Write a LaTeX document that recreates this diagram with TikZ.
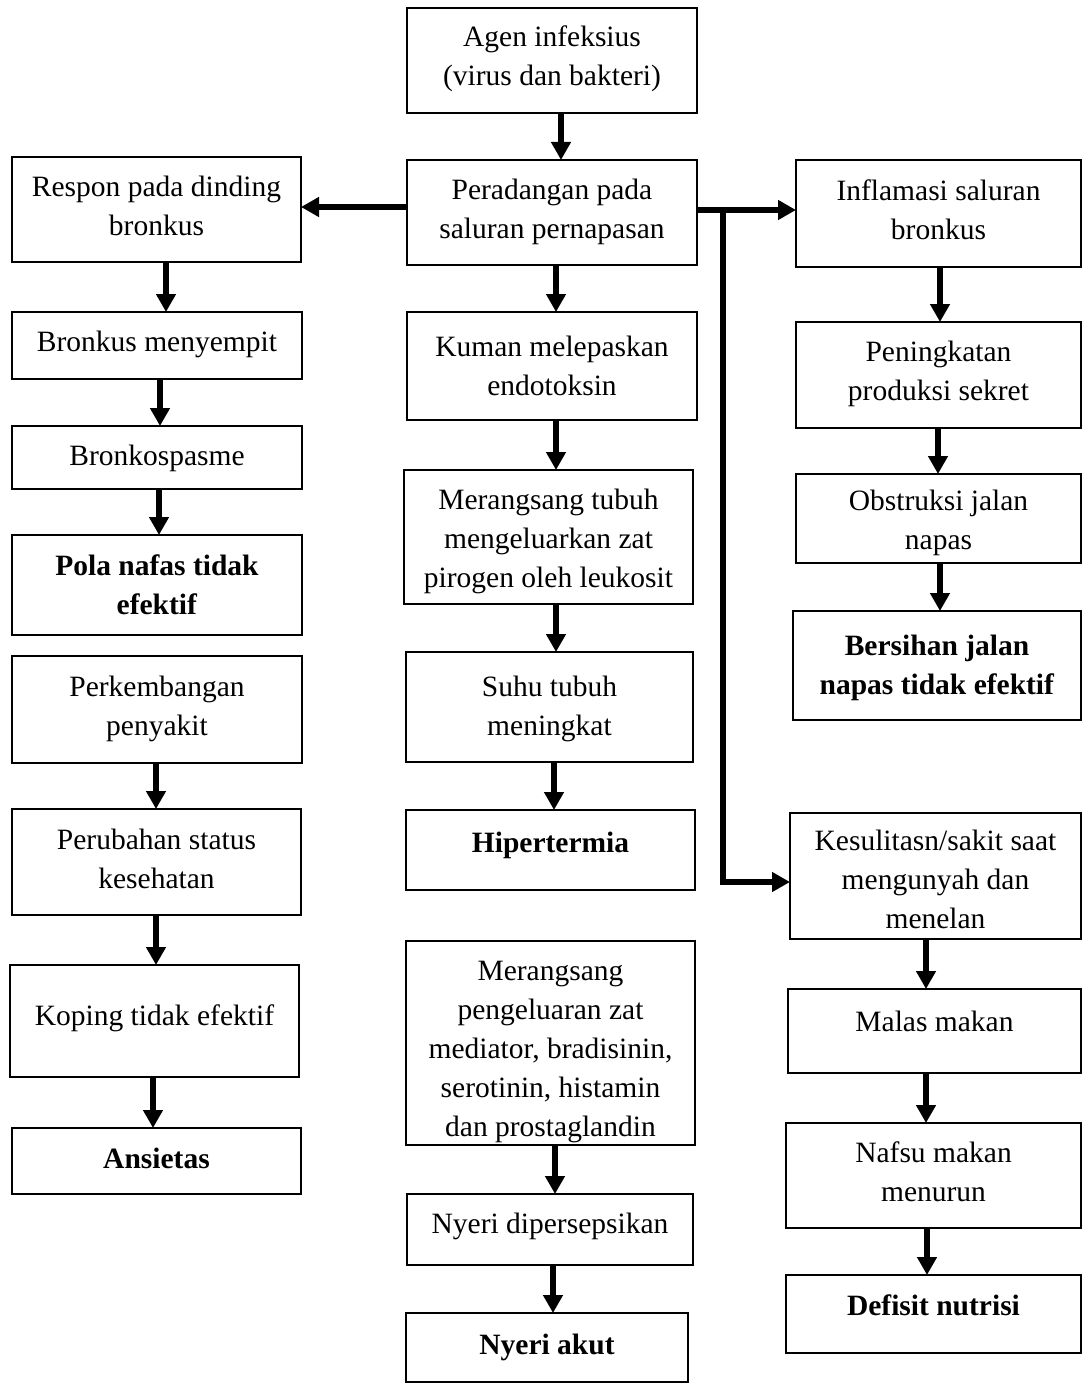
\documentclass[tikz,border=0pt]{standalone}
\usepackage{fontspec}
\setmainfont{Liberation Serif}
\usetikzlibrary{arrows.meta}
\tikzset{
  boxsty/.style={draw, line width=1.6pt, inner sep=0pt, outer sep=0pt, anchor=north west,
    font=\fontsize{29.5pt}{39pt}\selectfont},
  arr/.style={line width=5.5pt, -{Triangle[length=18pt,width=19pt]}, line join=miter},
}
% #1 first baseline offset, #2 name, #3 x1, #4 y1, #5 x2, #6 y2, #7 text
\newcommand{\flowbox}[7][39]{%
  \node[boxsty] (#2) at (#3,#4)
    {\parbox[c][\dimexpr #6pt-#4pt\relax][t]{\dimexpr #5pt-#3pt\relax}{\centering\rule{0pt}{#1pt}#7\par}};%
}
\begin{document}
\begin{tikzpicture}[x=1pt,y=-1pt]
\useasboundingbox (0,0) rectangle (1083,1383);
% centre column
\flowbox{agen}{407}{8}{697}{113}{Agen infeksius\\(virus dan bakteri)}
\flowbox{perad}{407}{160}{697}{265}{Peradangan pada\\saluran pernapasan}
\flowbox[44]{kuman}{407}{312}{697}{420}{Kuman melepaskan\\endotoksin}
\flowbox{mtubuh}{404}{470}{693}{604}{Merangsang tubuh\\mengeluarkan zat\\pirogen oleh leukosit}
\flowbox[44]{suhu}{406}{652}{693}{762}{Suhu tubuh\\meningkat}
\flowbox[42]{hiper}{406}{810}{695}{890}{\textbf{Hipertermia}}
\flowbox{mpeng}{406}{941}{695}{1145}{Merangsang\\pengeluaran zat\\mediator, bradisinin,\\serotinin, histamin\\dan prostaglandin}
\flowbox{nyerid}{407}{1194}{693}{1265}{Nyeri dipersepsikan}
\flowbox[41]{nyeria}{406}{1313}{688}{1382}{\textbf{Nyeri akut}}
% left column
\flowbox{respon}{12}{157}{301}{262}{Respon pada dinding\\bronkus}
\flowbox{bmeny}{12}{312}{302}{379}{Bronkus menyempit}
\flowbox{bspasm}{12}{426}{302}{489}{Bronkospasme}
\flowbox[40]{pola}{12}{535}{302}{635}{\textbf{Pola nafas tidak}\\\textbf{efektif}}
\flowbox[40]{perkem}{12}{656}{302}{763}{Perkembangan\\penyakit}
\flowbox[40]{perub}{12}{809}{301}{915}{Perubahan status\\kesehatan}
\flowbox[60]{koping}{10}{965}{299}{1077}{Koping tidak efektif}
\flowbox[40]{ansiet}{12}{1128}{301}{1194}{\textbf{Ansietas}}
% right column
\flowbox[40]{inflam}{796}{160}{1081}{267}{Inflamasi saluran\\bronkus}
\flowbox{pening}{796}{322}{1081}{428}{Peningkatan\\produksi sekret}
\flowbox[36]{obstr}{796}{474}{1081}{563}{Obstruksi jalan\\napas}
\flowbox[44]{bersih}{793}{611}{1081}{720}{\textbf{Bersihan jalan}\\\textbf{napas tidak efektif}}
\flowbox[37]{kesul}{790}{813}{1081}{939}{Kesulitasn/sakit saat\\mengunyah dan\\menelan}
\flowbox[42]{malas}{788}{989}{1081}{1073}{Malas makan}
\flowbox{nafsu}{786}{1123}{1081}{1228}{Nafsu makan\\menurun}
\flowbox[40]{defis}{786}{1275}{1081}{1353}{\textbf{Defisit nutrisi}}
% connectors: centre
\draw[arr] (agen.south -| 561,0) -- (perad.north -| 561,0);
\draw[arr] (perad.south -| 556,0) -- (kuman.north -| 556,0);
\draw[arr] (kuman.south -| 556,0) -- (mtubuh.north -| 556,0);
\draw[arr] (mtubuh.south -| 556,0) -- (suhu.north -| 556,0);
\draw[arr] (suhu.south -| 554,0) -- (hiper.north -| 554,0);
\draw[arr] (mpeng.south -| 555,0) -- (nyerid.north -| 555,0);
\draw[arr] (nyerid.south -| 553,0) -- (nyeria.north -| 553,0);
% left
\draw[arr] (perad.west |- 0,207) -- (respon.east |- 0,207);
\draw[arr] (respon.south -| 166,0) -- (bmeny.north -| 166,0);
\draw[arr] (bmeny.south -| 160,0) -- (bspasm.north -| 160,0);
\draw[arr] (bspasm.south -| 159,0) -- (pola.north -| 159,0);
\draw[arr] (perkem.south -| 156,0) -- (perub.north -| 156,0);
\draw[arr] (perub.south -| 156,0) -- (koping.north -| 156,0);
\draw[arr] (koping.south -| 153,0) -- (ansiet.north -| 153,0);
% right
\draw[arr] (perad.east |- 0,210) -- (inflam.west |- 0,210);
\draw[arr] (perad.east -| 723,0) ++(0,-2.5) -- (723,882) -- (kesul.west |- 0,882);
\draw[arr] (inflam.south -| 940,0) -- (pening.north -| 940,0);
\draw[arr] (pening.south -| 938,0) -- (obstr.north -| 938,0);
\draw[arr] (obstr.south -| 940,0) -- (bersih.north -| 940,0);
\draw[arr] (kesul.south -| 926,0) -- (malas.north -| 926,0);
\draw[arr] (malas.south -| 926,0) -- (nafsu.north -| 926,0);
\draw[arr] (nafsu.south -| 927,0) -- (defis.north -| 927,0);
\end{tikzpicture}
\end{document}
